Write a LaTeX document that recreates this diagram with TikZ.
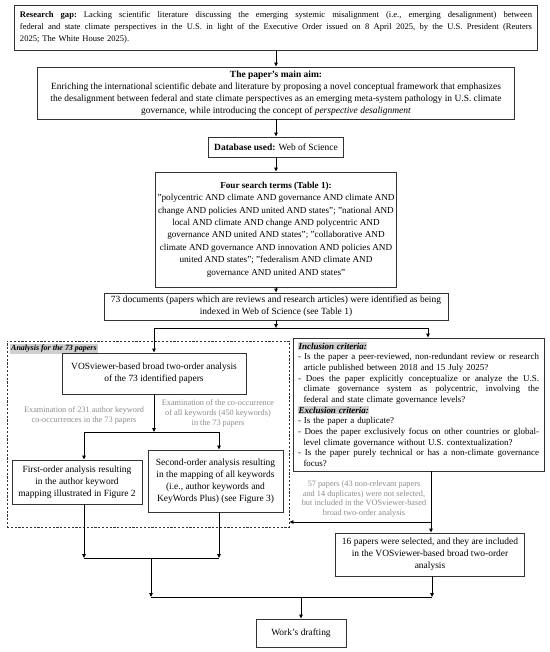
\documentclass[tikz,border=0pt]{standalone}
\usepackage{fontspec}
\setmainfont{Liberation Serif}
\usetikzlibrary{arrows.meta,calc}
\definecolor{ink}{HTML}{333333}
\definecolor{gtext}{HTML}{8C8C8C}
\definecolor{hl}{HTML}{CFCFCF}
\newcommand\myjl[1]{\makebox[\hsize][s]{\frenchspacing\spaceskip=0pt\xspaceskip=0pt #1}}
\newcommand\myij[1]{\hspace*{5.5bp}\makebox[\dimexpr\hsize-5.5bp\relax][s]{\frenchspacing\spaceskip=0pt\xspaceskip=0pt #1}}
\newcommand\myil[1]{\hspace*{5.5bp}#1}
\newcommand\myhl[1]{{\setlength{\fboxsep}{0.6bp}\colorbox{hl}{#1}}}
\begin{document}
\begin{tikzpicture}[x=1bp,y=-1bp,
  box/.style={draw=ink, line width=0.9bp, inner sep=2bp, align=center, font=\fontsize{9.5}{12}\selectfont},
  gnote/.style={inner sep=0pt, align=center, text=gtext, font=\fontsize{8.3}{10}\selectfont},
  arr/.style={draw=black, line width=0.9bp, -{Triangle[length=4bp,width=3.6bp]}},
  ln/.style={draw=black, line width=0.9bp}]
\useasboundingbox (0,0) rectangle (550,652);

\node[box, minimum width=523bp, minimum height=45bp, text width=512bp, align=left,
  font=\fontsize{8.6}{12.3}\selectfont] (gap) at (276,27.5)
 {\myjl{\textbf{Research gap:} Lacking scientific literature discussing the emerging systemic misalignment (i.e., emerging desalignment) between}\\
  \myjl{federal and state climate perspectives in the U.S. in light of the Executive Order issued on 8 April 2025, by the U.S. President (Reuters}\\
  2025; The White House 2025).};

\node[box, minimum width=477bp, minimum height=52bp] (aim) at (276,93)
 {\textbf{The paper’s main aim:}\\
  Enriching the international scientific debate and literature by proposing a novel conceptual framework that emphasizes\\
  the desalignment between federal and state climate perspectives as an emerging meta-system pathology in U.S. climate\\
  governance, while introducing the concept of \textit{perspective desalignment}};

\node[box, minimum width=135bp, minimum height=20bp] (db) at (276,147)
 {\textbf{Database used:} Web of Science};

\node[box, minimum width=229bp, minimum height=115bp, font=\fontsize{9.2}{12.5}\selectfont] (search) at (276,229.5)
 {\textbf{Four search terms (Table 1):}\\
  "polycentric AND climate AND governance AND climate AND\\
  change AND policies AND united AND states"; "national AND\\
  local AND climate AND change AND polycentric AND\\
  governance AND united AND states"; "collaborative AND\\
  climate AND governance AND innovation AND policies AND\\
  united AND states"; "federalism AND climate AND\\
  governance AND united AND states"};

\node[box, minimum width=344bp, minimum height=27bp] (docs) at (276,306.5)
 {73 documents (papers which are reviews and research articles) were identified as being\\
  indexed in Web of Science (see Table 1)};

% analysis group
\node[draw=ink, line width=0.9bp, dashed, dash pattern=on 2.2bp off 1.6bp,
  minimum width=282bp, minimum height=186bp, inner sep=0pt] (grp) at (148,434) {};
\node[anchor=north west, fill=hl, inner sep=1bp, font=\fontsize{8}{9}\selectfont\bfseries\itshape] (lbl) at (10,344)
 {Analysis for the 73 papers};

\node[box, minimum width=184bp, minimum height=41bp] (vos) at (154,373.5)
 {VOSviewer-based broad two-order analysis\\ of the 73 identified papers};

\node[gnote] (gl) at (84,415)
 {Examination of 231 author keyword\\ co-occurrences in the 73 papers};
\node[gnote] (gr) at (218,413.5)
 {Examination of the co-occurrence\\ of all keywords (450 keywords)\\ in the 73 papers};

\node[box, minimum width=130bp, minimum height=44bp] (first) at (77,482)
 {First-order analysis resulting\\ in the author keyword\\ mapping illustrated in Figure 2};
\node[box, minimum width=135bp, minimum height=62bp] (second) at (215.5,481)
 {Second-order analysis resulting\\ in the mapping of all keywords\\ (i.e., author keywords and\\ KeyWords Plus) (see Figure 3)};

% criteria
\node[box, minimum width=251bp, minimum height=133bp, text width=241bp, align=left,
  font=\fontsize{9}{10.7}\selectfont] (crit) at (418.5,404.5)
 {\myhl{\textbf{\textit{Inclusion criteria:}}}\\
  \myjl{- Is the paper a peer-reviewed, non-redundant review or research}\\
  \myil{article published between 2018 and 15 July 2025?}\\
  \myjl{- Does the paper explicitly conceptualize or analyze the U.S.}\\
  \myij{climate governance system as polycentric, involving the}\\
  \myil{federal and state climate governance levels?}\\
  \myhl{\textbf{\textit{Exclusion criteria:}}}\\
  - Is the paper a duplicate?\\
  \myjl{- Does the paper exclusively focus on other countries or global-}\\
  \myil{level climate governance without U.S. contextualization?}\\
  \myjl{- Is the paper purely technical or has a non-climate governance}\\
  \myil{focus?}};

\node[gnote] (g57) at (364,499)
 {57 papers (43 non-relevant papers\\ and 14 duplicates) were not selected,\\ but included in the VOSviewer-based\\ broad two-order analysis};

\node[box, minimum width=189bp, minimum height=43bp] (sixteen) at (430,554.5)
 {16 papers were selected, and they are included\\ in the VOSviewer-based broad two-order\\ analysis};

\node[box, minimum width=90bp, minimum height=28bp] (work) at (301,633)
 {Work’s drafting};

% junction coordinates
\coordinate (sp) at (276,328);
\coordinate (spL) at (154,328);
\coordinate (spR) at (428,328);
\coordinate (m1) at (154,432);
\coordinate (m1L) at (84,432);
\coordinate (m1R) at (219,432);
\coordinate (m2L) at (84,558);
\coordinate (m2R) at (219,558);
\coordinate (m2C) at (151,558);
\coordinate (m3L) at (151,597);
\coordinate (m3R) at (432,597);
\coordinate (vx) at (431,0);
\coordinate (lk) at (431,522);

% connectors
\draw[arr] (gap) -- (aim);
\draw[arr] (aim) -- (db);
\draw[arr] (db) -- (search);
\draw[arr] (search) -- (docs);
\draw[arr] (docs) -- (sp);
\draw[ln] (spL) -- (spR);
\draw[arr] (spL) -- (vos);
\draw[arr] (spR) -- (spR |- crit.north);
\draw[arr] (vos) -- (m1);
\draw[ln] (m1L) -- (m1R);
\draw[arr] (m1L) -- (m1L |- first.north);
\draw[arr] (m1R) -- (m1R |- second.north);
\draw[arr] (first.south -| m2L) -- (m2L);
\draw[arr] (second.south -| m2R) -- (m2R);
\draw[ln] (m2L) -- (m2R);
\draw[arr] (m2C) -- (m3L);
\draw[arr] (crit.south -| vx) -- (sixteen.north -| vx);
\draw[arr] (lk) -- (lk -| grp.east);
\draw[arr] (sixteen.south -| m3R) -- (m3R);
\draw[ln] (m3L) -- (m3R);
\draw[arr] (work |- m3L) -- (work);
\end{tikzpicture}
\end{document}
